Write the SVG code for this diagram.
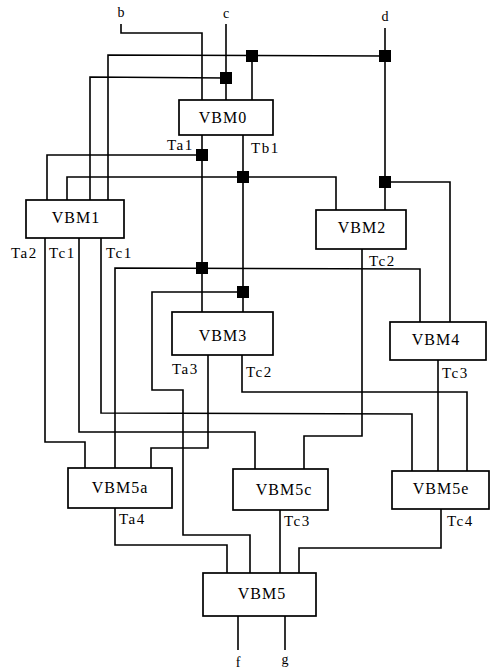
<svg xmlns="http://www.w3.org/2000/svg" width="500" height="672" viewBox="0 0 500 672">
<style>
  .box { fill: #fff; stroke: #000; stroke-width: 1.7; }
  .wire { fill: none; stroke: #000; stroke-width: 1.6; stroke-linejoin: miter; }
  .jn { fill: #000; }
  .name { font-family: "Liberation Serif", "Times New Roman", serif; font-size: 16px; letter-spacing: 1px; text-anchor: middle; fill: #000; }
  .lab { font-family: "Liberation Serif", "Times New Roman", serif; font-size: 15px; letter-spacing: 1.5px; fill: #000; }
  .io { font-family: "Liberation Serif", "Times New Roman", serif; font-size: 14px; text-anchor: middle; fill: #000; }
</style>
<rect width="500" height="672" fill="#fff"/>
<g id="connectors">
  <polyline class="wire" points="121,24 121,33 202,33 202,100"/>
  <polyline class="wire" points="226,24 226,100"/>
  <polyline class="wire" points="385,28 385,210"/>
  <polyline class="wire" points="252,56 252,100"/>
  <polyline class="wire" points="108,200 108,55 385,56"/>
  <polyline class="wire" points="90,200 90,77 226,78"/>
  <polyline class="wire" points="202,135 202,312"/>
  <polyline class="wire" points="47,200 47,155 202,155"/>
  <polyline class="wire" points="243,135 243,312"/>
  <polyline class="wire" points="67,200 67,177 336,177 336,210"/>
  <polyline class="wire" points="385,182 450,182 450,322"/>
  <polyline class="wire" points="115,468 115,268 420,269 420,322"/>
  <polyline class="wire" points="243,292 152,292 152,390 183,390 183,535 250,535 250,573"/>
  <polyline class="wire" points="45,238 45,442 85,442 85,468"/>
  <polyline class="wire" points="79,238 79,432 255,432 255,469"/>
  <polyline class="wire" points="101,238 101,413 412,414 412,471"/>
  <polyline class="wire" points="362,249 362,436 304,436 304,469"/>
  <polyline class="wire" points="208,355 208,448 151,448 151,468"/>
  <polyline class="wire" points="242,355 242,392 467,392 467,471"/>
  <polyline class="wire" points="438,360 438,471"/>
  <polyline class="wire" points="115,508 115,545 227,545 227,573"/>
  <polyline class="wire" points="280,510 280,573"/>
  <polyline class="wire" points="441,509 441,548 299,548 299,573"/>
  <polyline class="wire" points="238,616 238,650"/>
  <polyline class="wire" points="285,616 285,650"/>
  <rect class="jn" x="246" y="50" width="12" height="12"/>
  <rect class="jn" x="379" y="50" width="12" height="12"/>
  <rect class="jn" x="220" y="72" width="12" height="12"/>
  <rect class="jn" x="196" y="149" width="12" height="12"/>
  <rect class="jn" x="237" y="171" width="12" height="12"/>
  <rect class="jn" x="379" y="176" width="12" height="12"/>
  <rect class="jn" x="196" y="262" width="12" height="12"/>
  <rect class="jn" x="237" y="286" width="12" height="12"/>
</g>
<g id="io-labels">
  <text class="io" x="121" y="17">b</text>
  <text class="io" x="226" y="18">c</text>
  <text class="io" x="385" y="21">d</text>
  <text class="io" x="238" y="667">f</text>
  <text class="io" x="285" y="664">g</text>
</g>
<g id="VBM0">
  <rect class="box" x="179" y="100" width="94" height="35"/>
  <text class="name" x="223" y="123">VBM0</text>
  <text class="lab" x="167" y="150">Ta1</text>
  <text class="lab" x="251" y="153">Tb1</text>
</g>
<g id="VBM1">
  <rect class="box" x="26" y="200" width="98" height="38"/>
  <text class="name" x="76" y="223">VBM1</text>
  <text class="lab" x="11" y="258">Ta2</text>
  <text class="lab" x="49" y="258">Tc1</text>
  <text class="lab" x="106" y="258">Tc1</text>
</g>
<g id="VBM2">
  <rect class="box" x="316" y="210" width="90" height="39"/>
  <text class="name" x="362" y="233">VBM2</text>
  <text class="lab" x="369" y="266">Tc2</text>
</g>
<g id="VBM3">
  <rect class="box" x="172" y="312" width="101" height="43"/>
  <text class="name" x="223" y="341">VBM3</text>
  <text class="lab" x="172" y="374">Ta3</text>
  <text class="lab" x="246" y="377">Tc2</text>
</g>
<g id="VBM4">
  <rect class="box" x="390" y="322" width="96" height="38"/>
  <text class="name" x="436" y="345">VBM4</text>
  <text class="lab" x="442" y="378">Tc3</text>
</g>
<g id="VBM5a">
  <rect class="box" x="68" y="468" width="104" height="40"/>
  <text class="name" x="120" y="493">VBM5a</text>
  <text class="lab" x="119" y="524">Ta4</text>
</g>
<g id="VBM5c">
  <rect class="box" x="233" y="469" width="95" height="41"/>
  <text class="name" x="284" y="495">VBM5c</text>
  <text class="lab" x="284" y="526">Tc3</text>
</g>
<g id="VBM5e">
  <rect class="box" x="392" y="471" width="97" height="38"/>
  <text class="name" x="441" y="494">VBM5e</text>
  <text class="lab" x="447" y="526">Tc4</text>
</g>
<g id="VBM5">
  <rect class="box" x="203" y="573" width="113" height="43"/>
  <text class="name" x="262" y="599">VBM5</text>
</g>
</svg>
